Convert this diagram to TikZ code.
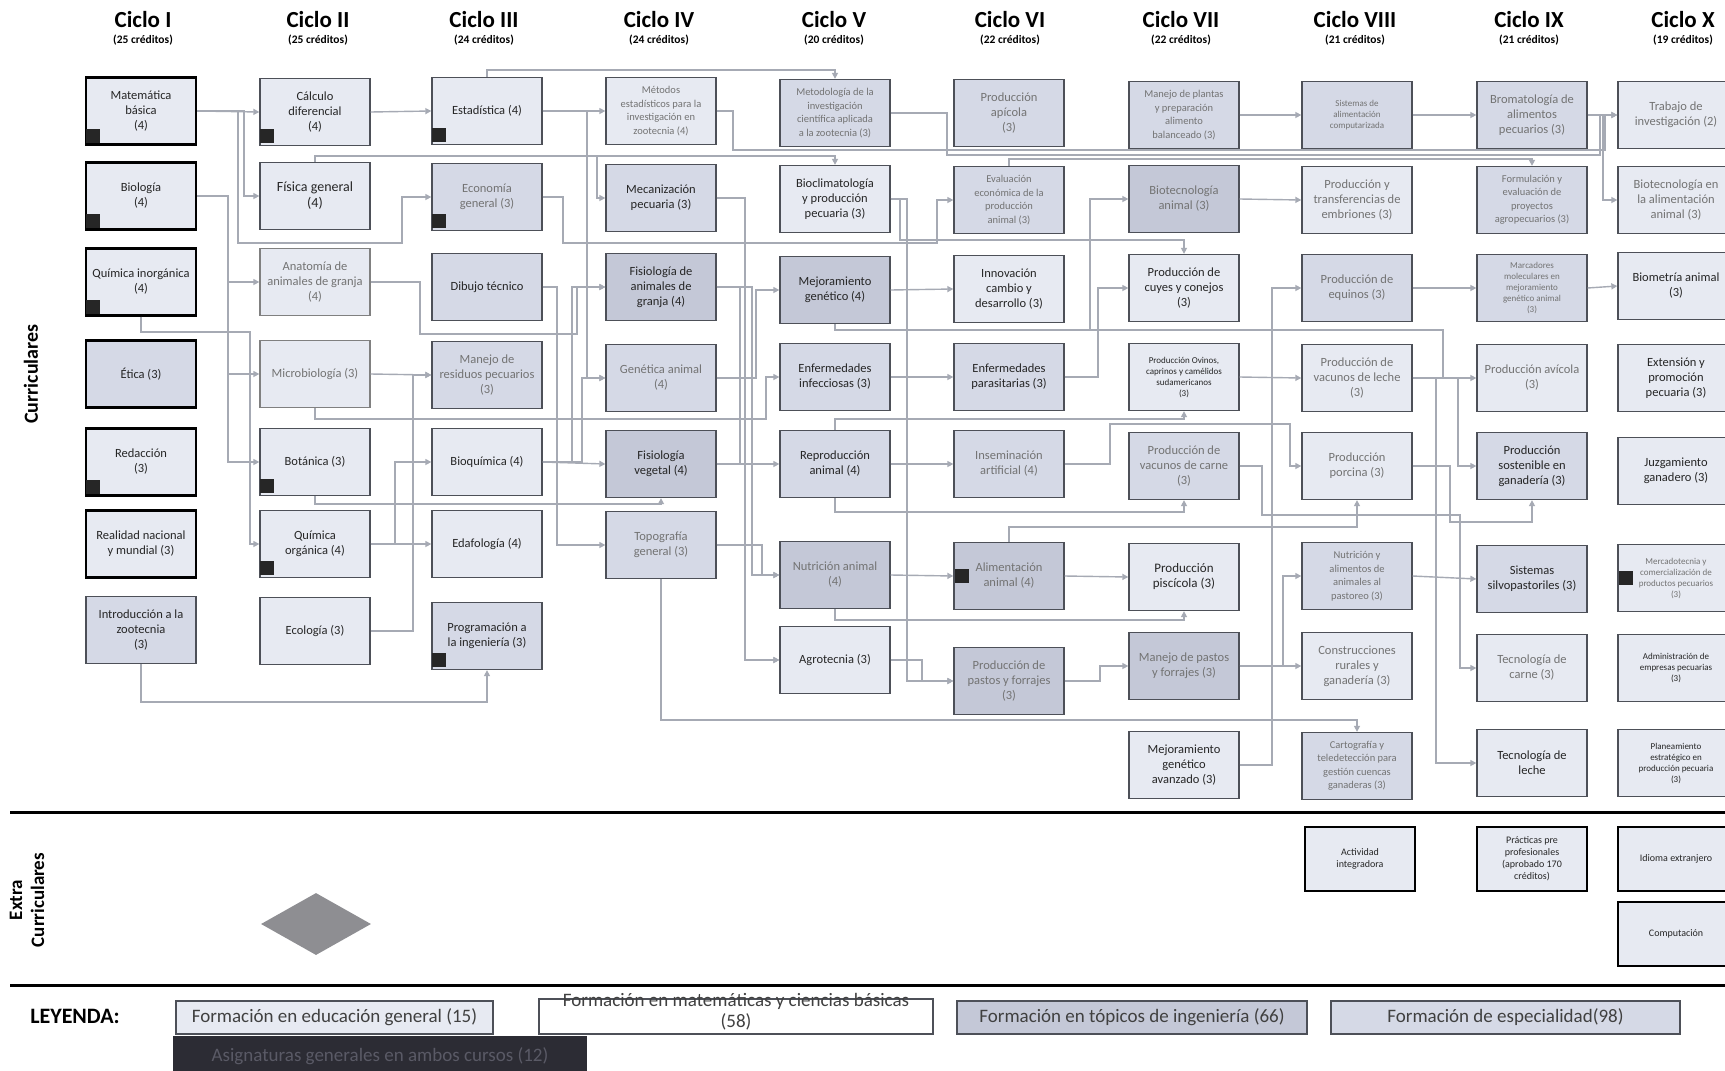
\documentclass[tikz,border=0pt]{standalone}
\usepackage{fontspec}
\setmainfont{Carlito}
\usetikzlibrary{ arrows.meta
               , shapes.geometric
               }
\definecolor{boxlight}{HTML}{E7EAF2}
\definecolor{boxmid}{HTML}{D5D9E6}
\definecolor{boxdark}{HTML}{C4C8D7}
\definecolor{linkgray}{HTML}{A6AAB4}
\definecolor{edgegray}{HTML}{4D5058}
\definecolor{legdark}{HTML}{2C2C34}
\definecolor{legtext}{HTML}{5A5A66}
\definecolor{diamondgray}{HTML}{8E8E92}

\begin{document}
\begin{tikzpicture}
      [ x=1pt, y=-1pt
      , course/.style={draw=edgegray, line width=1.3pt, minimum width=110, minimum height=67, inner sep=1pt, align=center, font=\fontsize{12.5}{15}\selectfont, text=black!85}
      , lightbox/.style={course, fill=boxlight}
      , midbox/.style={course, fill=boxmid}
      , deepbox/.style={course, fill=boxdark}
      , genbox/.style={course, fill=boxlight, draw=black, line width=2.4pt}
      , extrabox/.style={course, fill=boxlight, draw=black, line width=2pt, minimum height=64, font=\fontsize{10}{12}\selectfont}
      , faint/.style={text=black!55}
      , four/.style={font=\fontsize{10.5}{13.5}\selectfont}
      , five/.style={font=\fontsize{9}{11}\selectfont}
      , prereq/.style={draw=linkgray, line width=1.4pt, -{Triangle[width=6pt,length=6pt]}}
      , sqmark/.style={fill=black!85}
      , header/.style={font=\fontsize{23}{23}\selectfont\bfseries}
      , credits/.style={font=\fontsize{11.5}{11.5}\selectfont\bfseries}
      , legendbox/.style={draw=edgegray, line width=1.2pt, minimum height=33, font=\fontsize{19}{21}\selectfont, text=black!75}
      ]
    \useasboundingbox (0,0) rectangle (1725,1071);
    \clip (0,0) rectangle (1725,1071);
    \fill[white] (0,0) rectangle (1725,1071);

    % ciclos
    \foreach \x/\n/\c in {143/I/25, 318/II/25, 484/III/24, 659/IV/24, 834/V/20,
                          1010/VI/22, 1181/VII/22, 1355/VIII/21, 1529/IX/21, 1683/X/19}
    {
      \node[header] (ciclo\n) at (\x,20) {Ciclo \n};
      \node[credits] (cred\n) at (\x,40) {(\c\ créditos)};
    }

    \node[rotate=90, font=\fontsize{20}{20}\selectfont\bfseries] (curr) at (31,374) {Curriculares};
    \node[rotate=90, align=center, font=\fontsize{19}{22}\selectfont\bfseries] (extralbl) at (27,900) {Extra\\Curriculares};

    % ciclo I
    \node[genbox] (mat) at (141,111) {Matemática\\básica\\(4)};
    \node[genbox] (bio) at (141,196) {Biología\\(4)};
    \node[genbox] (qinorg) at (141,282) {Química inorgánica\\(4)};
    \node[genbox, fill=boxmid] (etica) at (141,374) {Ética (3)};
    \node[genbox] (redac) at (141,462) {Redacción\\(3)};
    \node[genbox] (real) at (141,544) {Realidad nacional\\y mundial (3)};
    \node[midbox] (intro) at (141,630) {Introducción a la\\zootecnia\\(3)};

    % ciclo II
    \node[lightbox] (calc) at (315,112) {Cálculo\\diferencial\\(4)};
    \node[lightbox, font=\fontsize{14}{16}\selectfont] (fis) at (315,196) {Física general\\(4)};
    \node[lightbox, faint, draw=gray] (anat) at (315,282) {Anatomía de\\animales de granja\\(4)};
    \node[lightbox, faint, draw=gray] (micro) at (315,374) {Microbiología (3)};
    \node[lightbox] (bot) at (315,462) {Botánica (3)};
    \node[lightbox] (qorg) at (315,544) {Química\\orgánica (4)};
    \node[lightbox] (eco) at (315,631) {Ecología (3)};

    % ciclo III
    \node[lightbox] (est) at (487,111) {Estadística (4)};
    \node[midbox, faint] (econ) at (487,197) {Economía\\general (3)};
    \node[midbox] (dib) at (487,287) {Dibujo técnico};
    \node[midbox, faint] (resid) at (487,375) {Manejo de\\residuos pecuarios\\(3)};
    \node[lightbox] (bioq) at (487,462) {Bioquímica (4)};
    \node[lightbox] (edaf) at (487,544) {Edafología (4)};
    \node[midbox] (prog) at (487,636) {Programación a\\la ingeniería (3)};

    % ciclo IV
    \node[lightbox, faint, four] (metest) at (661,111) {Métodos\\estadísticos para la\\investigación en\\zootecnia (4)};
    \node[midbox] (mecan) at (661,198) {Mecanización\\pecuaria (3)};
    \node[deepbox] (fisani) at (661,287) {Fisiología de\\animales de\\granja (4)};
    \node[midbox, faint] (genet) at (661,378) {Genética animal\\(4)};
    \node[deepbox] (fisveg) at (661,464) {Fisiología\\vegetal (4)};
    \node[midbox, faint] (topo) at (661,545) {Topografía\\general (3)};

    % ciclo V
    \node[midbox, faint, four] (metinv) at (835,113) {Metodología de la\\investigación\\científica aplicada\\a la zootecnia (3)};
    \node[lightbox] (biocli) at (835,199) {Bioclimatología\\y producción\\pecuaria (3)};
    \node[deepbox] (mejgen) at (835,290) {Mejoramiento\\genético (4)};
    \node[midbox] (enfinf) at (835,377) {Enfermedades\\infecciosas (3)};
    \node[midbox] (repro) at (835,464) {Reproducción\\animal (4)};
    \node[deepbox, faint] (nutri) at (835,575) {Nutrición animal\\(4)};
    \node[lightbox] (agro) at (835,660) {Agrotecnia (3)};

    % ciclo VI
    \node[midbox, faint] (apic) at (1009,113) {Producción\\apícola\\(3)};
    \node[midbox, faint, four] (evaleco) at (1009,200) {Evaluación\\económica de la\\producción\\animal (3)};
    \node[lightbox] (innov) at (1009,289) {Innovación\\cambio y\\desarrollo (3)};
    \node[midbox] (enfpar) at (1009,377) {Enfermedades\\parasitarias (3)};
    \node[midbox, faint] (insem) at (1009,464) {Inseminación\\artificial (4)};
    \node[deepbox, faint] (alim) at (1009,576) {Alimentación\\animal (4)};
    \node[deepbox, faint] (pastos) at (1009,681) {Producción de\\pastos y forrajes\\(3)};

    % ciclo VII
    \node[midbox, faint, four] (plantas) at (1184,115) {Manejo de plantas\\y preparación\\alimento\\balanceado (3)};
    \node[deepbox, faint] (biotec) at (1184,199) {Biotecnología\\animal (3)};
    \node[lightbox] (cuyes) at (1184,288) {Producción de\\cuyes y conejos\\(3)};
    \node[lightbox, five] (ovinos) at (1184,377) {Producción Ovinos,\\caprinos y camélidos\\sudamericanos\\(3)};
    \node[midbox, faint] (carne) at (1184,466) {Producción de\\vacunos de carne\\(3)};
    \node[lightbox, font=\fontsize{13}{15}\selectfont] (pisci) at (1184,577) {Producción\\piscícola (3)};
    \node[deepbox, faint] (manpast) at (1184,666) {Manejo de pastos\\y forrajes (3)};
    \node[lightbox] (mgavz) at (1184,765) {Mejoramiento\\genético\\avanzado (3)};

    % ciclo VIII
    \node[midbox, faint, five] (sisal) at (1357,115) {Sistemas de\\alimentación\\computarizada};
    \node[lightbox, faint] (embri) at (1357,200) {Producción y\\transferencias de\\embriones (3)};
    \node[midbox, faint] (equi) at (1357,288) {Producción de\\equinos (3)};
    \node[lightbox, faint] (leche) at (1357,378) {Producción de\\vacunos de leche\\(3)};
    \node[lightbox, faint] (porc) at (1357,466) {Producción\\porcina (3)};
    \node[midbox, faint, four] (nutpast) at (1357,576) {Nutrición y\\alimentos de\\animales al\\pastoreo (3)};
    \node[lightbox, faint] (constr) at (1357,666) {Construcciones\\rurales y\\ganadería (3)};
    \node[midbox, faint, four] (carto) at (1357,766) {Cartografía y\\teledetección para\\gestión cuencas\\ganaderas (3)};

    % ciclo IX
    \node[midbox, faint] (broma) at (1532,115) {Bromatología de\\alimentos\\pecuarios (3)};
    \node[midbox, faint, four] (formu) at (1532,200) {Formulación y\\evaluación de\\proyectos\\agropecuarios (3)};
    \node[midbox, faint, five] (marca) at (1532,288) {Marcadores\\moleculares en\\mejoramiento\\genético animal\\(3)};
    \node[lightbox, faint] (avic) at (1532,378) {Producción avícola\\(3)};
    \node[midbox] (sosten) at (1532,466) {Producción\\sostenible en\\ganadería (3)};
    \node[midbox] (silvo) at (1532,579) {Sistemas\\silvopastoriles (3)};
    \node[lightbox, faint] (tcarne) at (1532,668) {Tecnología de\\carne (3)};
    \node[lightbox] (tleche) at (1532,763) {Tecnología de\\leche};

    % ciclo X
    \node[lightbox, faint, minimum width=116] (trab) at (1676,115) {Trabajo de\\investigación (2)};
    \node[lightbox, faint, minimum width=116] (biotal) at (1676,200) {Biotecnología en\\la alimentación\\animal (3)};
    \node[lightbox, minimum width=116] (biomet) at (1676,286) {Biometría animal\\(3)};
    \node[lightbox, minimum width=116] (exten) at (1676,378) {Extensión y\\promoción\\pecuaria (3)};
    \node[lightbox, minimum width=116] (juzg) at (1676,471) {Juzgamiento\\ganadero (3)};
    \node[lightbox, faint, five, minimum width=116] (merca) at (1676,578) {Mercadotecnia y\\comercialización de\\productos pecuarios\\(3)};
    \node[lightbox, five, minimum width=116] (admin) at (1676,668) {Administración de\\empresas pecuarias\\(3)};
    \node[lightbox, five, minimum width=116] (plan) at (1676,763) {Planeamiento\\estratégico en\\producción pecuaria\\(3)};

    % marcas
    \foreach \b in {mat, bio, qinorg, redac, calc, bot, qorg, est, econ, prog}
      \fill[sqmark] ([xshift=1pt,yshift=3pt]\b.south west) rectangle ++(14pt,14pt);
    \foreach \b in {alim, merca}
      \fill[sqmark] ([xshift=2pt,yshift=-7pt]\b.west) rectangle ++(14pt,14pt);

    % ciclo I -> II
    \draw[prereq] (mat.east) -- (calc.west);
    \draw[prereq] (mat.east) -- (244,111) |- (fis.west);
    \draw[prereq] (mat.east) -- (238,111) -- (238,243) -- (402,243) |- (econ.west);
    \draw[prereq] (bio.east) -- (228,196) |- (anat.west);
    \draw[prereq] (bio.east) -- (228,196) |- (micro.west);
    \draw[prereq] (bio.east) -- (228,196) |- (bot.west);
    \draw[prereq] (qinorg.south) -- (141,332) -- (250,332) |- (qorg.west);
    \draw[prereq] (intro.south) -- (141,702) -| (prog.south);

    % ciclo II -> III
    \draw[prereq] (calc.east) -- (est.west);
    \draw[prereq] (fis.north) -- (315,156) -| (biocli.north);
    \draw[prereq] (fis.north) -- (315,156) -- (597,156) |- (mecan.west);
    \draw[prereq] (anat.east) -- (420,282) -- (420,334) -- (577,334) |- (fisani.west);
    \draw[prereq] (micro.east) -- (resid.west);
    \draw[prereq] (eco.east) -- (413,631) |- (resid.west);
    \draw[prereq] (qorg.east) -- (395,544) |- (bioq.west);
    \draw[prereq] (qorg.east) -- (edaf.west);
    \draw[prereq] (bot.south) -- (315,504) -| (fisveg.south);
    \draw[prereq] (micro.south) -- (315,419) -- (766,419) |- (enfinf.west);

    % ciclo III -> IV
    \draw[prereq] (est.east) -- (metest.west);
    \draw[prereq] (est.north) -- (487,70) -| (metinv.north);
    \draw[prereq] (est.east) -- (587,111) |- (genet.west);
    \draw[prereq] (econ.east) -- (563,197) -- (563,243) -- (937,243) |- (evaleco.west);
    \draw[prereq] (dib.east) -- (557,287) |- (topo.west);
    \draw[prereq] (bioq.east) -- (fisveg.west);
    \draw[prereq] (bioq.east) -- (572,462) |- (fisani.west);
    \draw[prereq] (bioq.east) -- (582,462) |- (genet.west);

    % ciclo IV -> V
    \draw[prereq] (metest.east) -- (733,111) -- (733,150) -- (1605,150) |- (trab.west);
    \draw[prereq] (genet.east) -- (756,378) |- (mejgen.west);
    \draw[prereq] (fisani.east) -- (740,287) |- (repro.west);
    \draw[prereq] (fisani.east) -- (752,287) |- (nutri.west);
    \draw[prereq] (mecan.east) -- (745,198) |- (agro.west);
    \draw[prereq] (fisveg.east) -- (745,464) |- (agro.west);
    \draw[prereq] (topo.east) -- (762,545) |- (nutri.west);
    \draw[prereq] (topo.south) -- (661,720) -| (carto.north);

    % ciclo V -> VI
    \draw[prereq] (metinv.east) -- (947,113) -- (947,155) -- (1600,155) |- (trab.west);
    \draw[prereq] (biocli.east) -- (907,199) |- (pastos.west);
    \draw[prereq] (biocli.east) -- (900,199) -- (900,240) -| (cuyes.north);
    \draw[prereq] (mejgen.east) -- (innov.west);
    \draw[prereq] (mejgen.south) -- (835,330) -- (1443,330) |- (avic.west);
    \draw[prereq] (mejgen.south) -- (835,330) -- (1090,330) |- (biotec.west);
    \draw[prereq] (enfinf.east) -- (enfpar.west);
    \draw[prereq] (repro.east) -- (insem.west);
    \draw[prereq] (repro.north) -- (835,419) -| (ovinos.south);
    \draw[prereq] (repro.south) -- (835,512) -| (carne.south);
    \draw[prereq] (nutri.east) -- (alim.west);
    \draw[prereq] (nutri.south) -- (835,620) -| (pisci.south);
    \draw[prereq] (agro.east) -- (922,660) |- (pastos.west);

    % ciclo VI -> VII
    \draw[prereq] (evaleco.north) -- (1009,159) -| (formu.north);
    \draw[prereq] (enfpar.east) -- (1098,377) |- (cuyes.west);
    \draw[prereq] (alim.east) -- (pisci.west);
    \draw[prereq] (alim.north) -- (1009,527) -| (porc.south);
    \draw[prereq] (insem.east) -- (1110,464) -- (1110,424) -- (1290,424) |- (porc.west);
    \draw[prereq] (pastos.east) -- (1100,681) |- (manpast.west);

    % ciclo VII -> VIII
    \draw[prereq] (plantas.east) -- (sisal.west);
    \draw[prereq] (biotec.east) -- (embri.west);
    \draw[prereq] (mgavz.east) -- (1272,765) |- (equi.west);
    \draw[prereq] (ovinos.east) -- (leche.west);
    \draw[prereq] (manpast.east) -- (1283,666) |- (nutpast.west);
    \draw[prereq] (manpast.east) -- (constr.west);
    \draw[prereq] (carne.east) -- (1262,466) -- (1262,515) -- (1460,515) |- (tcarne.west);

    % ciclo VIII -> IX
    \draw[prereq] (sisal.east) -- (broma.west);
    \draw[prereq] (equi.east) -- (marca.west);
    \draw[prereq] (leche.east) -- (1458,378) |- (sosten.west);
    \draw[prereq] (leche.east) -- (1436,378) |- (tleche.west);
    \draw[prereq] (porc.east) -- (1450,466) -- (1450,522) -| (sosten.south);
    \draw[prereq] (nutpast.east) -- (silvo.west);

    % ciclo IX -> X
    \draw[prereq] (broma.east) -- (1603,115) |- (biotal.west);
    \draw[prereq] (marca.east) -- (biomet.west);

    % extra curriculares
    \draw[line width=3pt] (10,812) -- (1725,812);
    \node[diamond, fill=diamondgray, minimum width=110, minimum height=62, inner sep=0pt] (rombo) at (316,924) {};
    \node[extrabox] (activ) at (1360,859) {Actividad\\integradora};
    \node[extrabox] (practi) at (1532,859) {Prácticas pre\\profesionales\\(aprobado 170\\créditos)};
    \node[extrabox, minimum width=116] (idioma) at (1676,859) {Idioma extranjero};
    \node[extrabox, minimum width=116] (compu) at (1676,934) {Computación};
    \draw[line width=3pt] (10,985) -- (1725,985);

    % leyenda
    \node[font=\fontsize{22}{22}\selectfont\bfseries] (leyenda) at (75,1016) {LEYENDA:};
    \node[legendbox, fill=boxlight, minimum width=317] (leg1) at (334.5,1017.5) {Formación en educación general (15)};
    \node[legendbox, fill=white, minimum width=394, minimum height=35] (leg2) at (736,1016.5) {};
    \node[align=center, font=\fontsize{19}{21}\selectfont, text=black!75] (leg2txt) at (736,1012) {Formación en matemáticas y ciencias básicas\\(58)};
    \node[legendbox, fill=boxdark, minimum width=350] (leg3) at (1132,1017.5) {Formación en tópicos de ingeniería (66)};
    \node[legendbox, fill=boxmid, minimum width=349] (leg4) at (1505.5,1017.5) {Formación de especialidad(98)};
    \node[legendbox, fill=legdark, draw=legdark, text=legtext, minimum width=412, minimum height=38] (leg5) at (380,1056) {Asignaturas generales en ambos cursos (12)};
\end{tikzpicture}
\end{document}
